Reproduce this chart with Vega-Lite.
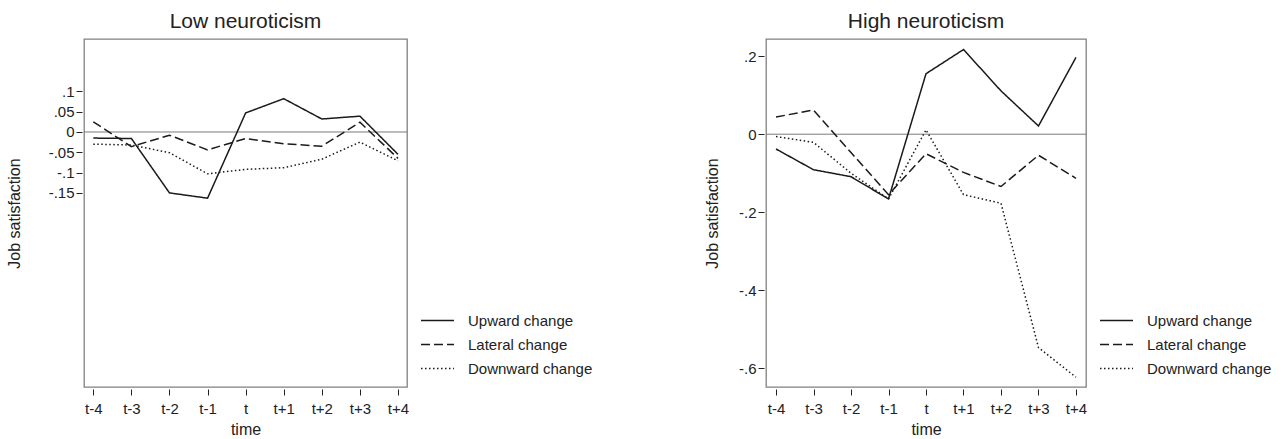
{
  "$schema": "https://vega.github.io/schema/vega-lite/v6.json",
  "padding": {"left": 5, "top": 10, "right": 0, "bottom": 0},
  "background": "white",
  "bounds": "flush",
  "spacing": 359,
  "config": {
    "font": "Liberation Sans",
    "view": {"stroke": "#808080", "strokeWidth": 1.3},
    "title": {"fontSize": 21, "fontWeight": "normal", "color": "#222", "offset": 7},
    "axis": {
      "grid": false, "domain": false, "tickColor": "#222", "tickSize": 6, "offset": 2,
      "labelFontSize": 15, "labelColor": "#222", "titleFontSize": 16, "titleFontWeight": "normal", "titleColor": "#222"
    }
  },
  "datasets": {
    "js": [
      {"panel": "Low", "t": -4, "series": "Upward change", "value": -0.015},
      {"panel": "Low", "t": -3, "series": "Upward change", "value": -0.016},
      {"panel": "Low", "t": -2, "series": "Upward change", "value": -0.150},
      {"panel": "Low", "t": -1, "series": "Upward change", "value": -0.163},
      {"panel": "Low", "t": 0, "series": "Upward change", "value": 0.047},
      {"panel": "Low", "t": 1, "series": "Upward change", "value": 0.082},
      {"panel": "Low", "t": 2, "series": "Upward change", "value": 0.032},
      {"panel": "Low", "t": 3, "series": "Upward change", "value": 0.039},
      {"panel": "Low", "t": 4, "series": "Upward change", "value": -0.055},
      {"panel": "Low", "t": -4, "series": "Lateral change", "value": 0.025},
      {"panel": "Low", "t": -3, "series": "Lateral change", "value": -0.036},
      {"panel": "Low", "t": -2, "series": "Lateral change", "value": -0.008},
      {"panel": "Low", "t": -1, "series": "Lateral change", "value": -0.044},
      {"panel": "Low", "t": 0, "series": "Lateral change", "value": -0.016},
      {"panel": "Low", "t": 1, "series": "Lateral change", "value": -0.029},
      {"panel": "Low", "t": 2, "series": "Lateral change", "value": -0.035},
      {"panel": "Low", "t": 3, "series": "Lateral change", "value": 0.024},
      {"panel": "Low", "t": 4, "series": "Lateral change", "value": -0.065},
      {"panel": "Low", "t": -4, "series": "Downward change", "value": -0.030},
      {"panel": "Low", "t": -3, "series": "Downward change", "value": -0.032},
      {"panel": "Low", "t": -2, "series": "Downward change", "value": -0.051},
      {"panel": "Low", "t": -1, "series": "Downward change", "value": -0.103},
      {"panel": "Low", "t": 0, "series": "Downward change", "value": -0.092},
      {"panel": "Low", "t": 1, "series": "Downward change", "value": -0.088},
      {"panel": "Low", "t": 2, "series": "Downward change", "value": -0.067},
      {"panel": "Low", "t": 3, "series": "Downward change", "value": -0.025},
      {"panel": "Low", "t": 4, "series": "Downward change", "value": -0.071},
      {"panel": "High", "t": -4, "series": "Upward change", "value": -0.038},
      {"panel": "High", "t": -3, "series": "Upward change", "value": -0.091},
      {"panel": "High", "t": -2, "series": "Upward change", "value": -0.109},
      {"panel": "High", "t": -1, "series": "Upward change", "value": -0.166},
      {"panel": "High", "t": 0, "series": "Upward change", "value": 0.155},
      {"panel": "High", "t": 1, "series": "Upward change", "value": 0.217},
      {"panel": "High", "t": 2, "series": "Upward change", "value": 0.111},
      {"panel": "High", "t": 3, "series": "Upward change", "value": 0.021},
      {"panel": "High", "t": 4, "series": "Upward change", "value": 0.197},
      {"panel": "High", "t": -4, "series": "Lateral change", "value": 0.044},
      {"panel": "High", "t": -3, "series": "Lateral change", "value": 0.062},
      {"panel": "High", "t": -2, "series": "Lateral change", "value": -0.047},
      {"panel": "High", "t": -1, "series": "Lateral change", "value": -0.155},
      {"panel": "High", "t": 0, "series": "Lateral change", "value": -0.050},
      {"panel": "High", "t": 1, "series": "Lateral change", "value": -0.098},
      {"panel": "High", "t": 2, "series": "Lateral change", "value": -0.134},
      {"panel": "High", "t": 3, "series": "Lateral change", "value": -0.054},
      {"panel": "High", "t": 4, "series": "Lateral change", "value": -0.113},
      {"panel": "High", "t": -4, "series": "Downward change", "value": -0.006},
      {"panel": "High", "t": -3, "series": "Downward change", "value": -0.021},
      {"panel": "High", "t": -2, "series": "Downward change", "value": -0.100},
      {"panel": "High", "t": -1, "series": "Downward change", "value": -0.166},
      {"panel": "High", "t": 0, "series": "Downward change", "value": 0.011},
      {"panel": "High", "t": 1, "series": "Downward change", "value": -0.155},
      {"panel": "High", "t": 2, "series": "Downward change", "value": -0.177},
      {"panel": "High", "t": 3, "series": "Downward change", "value": -0.547},
      {"panel": "High", "t": 4, "series": "Downward change", "value": -0.623}
    ]
  },
  "hconcat": [
    {
      "width": 323,
      "height": 348,
      "title": {"text": "Low neuroticism"},
      "layer": [
        {
          "data": {"values": [{}]},
          "mark": {"type": "rule", "color": "#7a7a7a", "strokeWidth": 1},
          "encoding": {"y": {"datum": 0, "type": "quantitative",
            "scale": {"domain": [-0.628, 0.229], "nice": false, "zero": false},
            "axis": {"title": "Job satisfaction", "values": [-0.15, -0.1, -0.05, 0, 0.05, 0.1], "labelPadding": 2, "titlePadding": 26,
              "labelExpr": "datum.value == 0 ? '0' : (datum.value < 0 ? '-' : '') + replace(toString(abs(datum.value)), '0.', '.')"}}}
        },
        {
          "data": {"name": "js"},
          "transform": [{"filter": "datum.panel == 'Low'"}],
          "mark": {"type": "line", "color": "#1a1a1a", "strokeWidth": 1.5},
          "encoding": {
            "x": {
              "field": "t", "type": "quantitative",
              "scale": {"domain": [-4.244, 4.236], "nice": false, "zero": false},
              "axis": {"title": "time", "values": [-4, -3, -2, -1, 0, 1, 2, 3, 4], "labelPadding": 6, "titlePadding": 5,
                "labelExpr": "datum.value == 0 ? 't' : (datum.value > 0 ? 't+' + datum.value : 't' + datum.value)"}
            },
            "y": {
              "field": "value", "type": "quantitative",
              "scale": {"domain": [-0.628, 0.229], "nice": false, "zero": false},
              "axis": {"title": "Job satisfaction", "values": [-0.15, -0.1, -0.05, 0, 0.05, 0.1], "labelPadding": 2, "titlePadding": 26,
                "labelExpr": "datum.value == 0 ? '0' : (datum.value < 0 ? '-' : '') + replace(toString(abs(datum.value)), '0.', '.')"}
            },
            "strokeDash": {
              "field": "series", "type": "nominal",
              "scale": {"domain": ["Upward change", "Lateral change", "Downward change"], "range": [[1, 0], [9, 4], [1.5, 2.5]]},
              "legend": {
                "orient": "none", "legendX": 346, "legendY": 274, "title": null,
                "symbolType": "M-2.5,0H2.5", "symbolSize": 174, "symbolStrokeWidth": 1.5, "symbolStrokeColor": "#1a1a1a",
                "symbolFillColor": "transparent", "labelFontSize": 15, "labelColor": "#222", "labelOffset": 23, "rowPadding": 8
              }
            }
          }
        }
      ]
    },
    {
      "width": 320,
      "height": 348,
      "title": {"text": "High neuroticism"},
      "layer": [
        {
          "data": {"values": [{}]},
          "mark": {"type": "rule", "color": "#7a7a7a", "strokeWidth": 1},
          "encoding": {"y": {"datum": 0, "type": "quantitative",
            "scale": {"domain": [-0.648, 0.244], "nice": false, "zero": false},
            "axis": {"title": "Job satisfaction", "values": [-0.6, -0.4, -0.2, 0, 0.2], "labelPadding": 2, "titlePadding": 18,
              "labelExpr": "datum.value == 0 ? '0' : (datum.value < 0 ? '-' : '') + replace(toString(abs(datum.value)), '0.', '.')"}}}
        },
        {
          "data": {"name": "js"},
          "transform": [{"filter": "datum.panel == 'High'"}],
          "mark": {"type": "line", "color": "#1a1a1a", "strokeWidth": 1.5},
          "encoding": {
            "x": {
              "field": "t", "type": "quantitative",
              "scale": {"domain": [-4.267, 4.267], "nice": false, "zero": false},
              "axis": {"title": "time", "values": [-4, -3, -2, -1, 0, 1, 2, 3, 4], "labelPadding": 6, "titlePadding": 5,
                "labelExpr": "datum.value == 0 ? 't' : (datum.value > 0 ? 't+' + datum.value : 't' + datum.value)"}
            },
            "y": {
              "field": "value", "type": "quantitative",
              "scale": {"domain": [-0.648, 0.244], "nice": false, "zero": false},
              "axis": {"title": "Job satisfaction", "values": [-0.6, -0.4, -0.2, 0, 0.2], "labelPadding": 2, "titlePadding": 18,
                "labelExpr": "datum.value == 0 ? '0' : (datum.value < 0 ? '-' : '') + replace(toString(abs(datum.value)), '0.', '.')"}
            },
            "strokeDash": {
              "field": "series", "type": "nominal",
              "scale": {"domain": ["Upward change", "Lateral change", "Downward change"], "range": [[1, 0], [9, 4], [1.5, 2.5]]},
              "legend": {
                "orient": "none", "legendX": 343, "legendY": 274, "title": null,
                "symbolType": "M-2.5,0H2.5", "symbolSize": 174, "symbolStrokeWidth": 1.5, "symbolStrokeColor": "#1a1a1a",
                "symbolFillColor": "transparent", "labelFontSize": 15, "labelColor": "#222", "labelOffset": 23, "rowPadding": 8
              }
            }
          }
        }
      ]
    }
  ],
  "resolve": {"scale": {"strokeDash": "independent", "x": "independent", "y": "independent"}, "legend": {"strokeDash": "independent"}}
}
